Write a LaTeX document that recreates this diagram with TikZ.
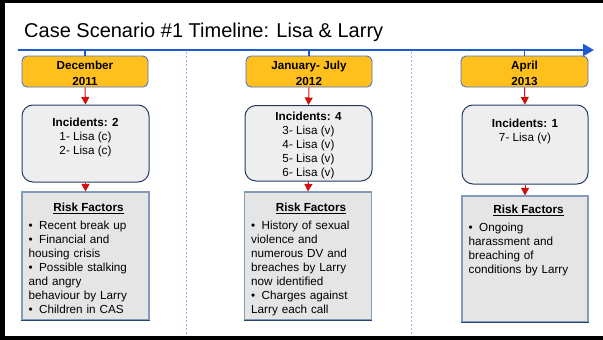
\documentclass[tikz,border=0pt]{standalone}
\usepackage{fontspec}
\setmainfont{Liberation Sans}
\usetikzlibrary{arrows.meta}
\definecolor{tlblue}{RGB}{31,88,208}
\definecolor{dateorange}{RGB}{255,192,30}
\definecolor{dateborder}{RGB}{75,115,200}
\definecolor{incfill}{RGB}{238,238,238}
\definecolor{incborder}{RGB}{35,60,100}
\definecolor{riskfill}{RGB}{229,229,229}
\definecolor{riskborder}{RGB}{130,155,185}
\definecolor{riskbottom}{RGB}{40,70,115}
\definecolor{arrowred}{RGB}{210,15,15}
\definecolor{dotblue}{RGB}{150,180,230}
\newcommand{\bitem}{\par\noindent\hangindent=10.5pt\hangafter=1\makebox[10.5pt][l]{\strut\textbullet}}
\begin{document}
\begin{tikzpicture}[x=1pt,y=-1pt,
  datebox/.style={draw=dateborder, fill=dateorange, rounded corners=5pt, line width=0.9pt, inner sep=0pt},
  incbox/.style={draw=incborder, fill=incfill, rounded corners=11pt, line width=1pt, inner sep=0pt},
  riskbox/.style={draw=riskborder, fill=riskfill, line width=1.1pt, inner sep=0pt},
  txt/.style={inner sep=0pt, font=\fontsize{11.7}{14}\selectfont},
  redarrow/.style={draw=arrowred, line width=1pt, -{Triangle[length=7.5pt,width=8pt]}},
  tickline/.style={draw=tlblue, line width=1.1pt},
  divider/.style={draw=dotblue, line width=0.9pt, dash pattern=on 2pt off 2pt}
]
\useasboundingbox (0,0) rectangle (603,340);
% frame
\fill[black] (0,0) rectangle (4.5,340);
\fill[black] (0,0) rectangle (603,2.7);
\fill[black] (0,335.5) rectangle (603,340);
% title
\node[anchor=base west, inner sep=0pt, font=\fontsize{20}{24}\selectfont] (title) at (24,37.5) {Case Scenario \#1 Timeline: Lisa \& Larry};
% dividers
\coordinate (v1t) at (186,52); \coordinate (v1b) at (186,335);
\coordinate (v2t) at (411,52); \coordinate (v2b) at (411,335);
\draw[divider] (v1t) -- (v1b);
\draw[divider] (v2t) -- (v2b);
% timeline
\coordinate (tlstart) at (18,50);
\coordinate (tlend) at (594,50);
\draw[tlblue, line width=2.2pt, -{Triangle[length=11pt,width=12pt]}] (tlstart) -- (tlend);
% date boxes
\node[datebox, minimum width=126pt, minimum height=31pt] (d1) at (85,71.5) {};
\node[datebox, minimum width=126pt, minimum height=31pt] (d2) at (309,71.5) {};
\node[datebox, minimum width=127pt, minimum height=31pt] (d3) at (524.5,71.5) {};
\draw[tickline] (d1.north |- tlstart) -- (d1.north);
\draw[tickline] (d2.north |- tlstart) -- (d2.north);
\draw[tickline] (d3.north |- tlstart) -- (d3.north);
\node[txt, align=center, anchor=north, font=\fontsize{11.7}{15.5}\selectfont\bfseries] (d1t) at (85,58.65) {\strut December\\2011};
\node[txt, align=center, anchor=north, font=\fontsize{11.7}{15.5}\selectfont\bfseries] (d2t) at (309,58.65) {\strut January- July\\2012};
\node[txt, align=center, anchor=north, font=\fontsize{11.7}{15.5}\selectfont\bfseries] (d3t) at (524.5,58.65) {\strut April\\2013};
% incident boxes
\node[incbox, minimum width=127pt, minimum height=77pt] (i1) at (85.5,143.5) {};
\node[incbox, minimum width=127pt, minimum height=75.5pt] (i2) at (308.5,143.25) {};
\node[incbox, minimum width=126pt, minimum height=79pt] (i3) at (525,144.5) {};
\node[txt, align=center, anchor=north] (i1t) at (85.5,116.9) {\strut\textbf{Incidents: 2}\\1- Lisa (c)\\2- Lisa (c)};
\node[txt, align=center, anchor=north] (i2t) at (308.5,110.2) {\strut\textbf{Incidents: 4}\\3- Lisa (v)\\4- Lisa (v)\\5- Lisa (v)\\6- Lisa (v)};
\node[txt, align=center, anchor=north] (i3t) at (525,117.2) {\strut\textbf{Incidents: 1}\\7- Lisa (v)};
% risk boxes
\node[riskbox, minimum width=127pt, minimum height=128pt] (r1) at (85.5,256) {};
\node[riskbox, minimum width=127pt, minimum height=128pt] (r2) at (308,256) {};
\node[riskbox, minimum width=126pt, minimum height=126pt] (r3) at (525,259) {};
\draw[riskbottom, line width=1.1pt] (r1.south west) -- (r1.south east);
\draw[riskbottom, line width=1.1pt] (r2.south west) -- (r2.south east);
\draw[riskbottom, line width=1.1pt] (r3.south west) -- (r3.south east);
\node[txt, anchor=base] (r1h) at (88.5,211.3) {\textbf{\underline{Risk Factors}}};
\node[txt, anchor=base] (r2h) at (311,211.3) {\textbf{\underline{Risk Factors}}};
\node[txt, anchor=base] (r3h) at (528.5,213.5) {\textbf{\underline{Risk Factors}}};
\node[txt, anchor=north west, text width=118pt, align=left] (r1l) at (28.5,215.2) {\bitem Recent break up
\bitem Financial and\\housing crisis
\bitem Possible stalking\\and angry\\behaviour by Larry
\bitem Children in CAS};
\node[txt, anchor=north west, text width=118pt, align=left] (r2l) at (251,215.2) {\bitem History of sexual\\violence and\\numerous DV and\\breaches by Larry\\now identified
\bitem Charges against\\Larry each call};
\node[txt, anchor=north west, text width=118pt, align=left] (r3l) at (468.5,217.7) {\bitem Ongoing\\harassment and\\breaching of\\conditions by Larry};
% red arrows
\draw[redarrow] (d1.south) -- (i1.north);
\draw[redarrow] (d2.south) -- (i2.north);
\draw[redarrow] (d3.south) -- (i3.north);
\draw[redarrow] (i1.south) -- (r1.north);
\draw[redarrow] (i2.south) -- (r2.north);
\draw[redarrow] (i3.south) -- (r3.north);
\end{tikzpicture}
\end{document}
